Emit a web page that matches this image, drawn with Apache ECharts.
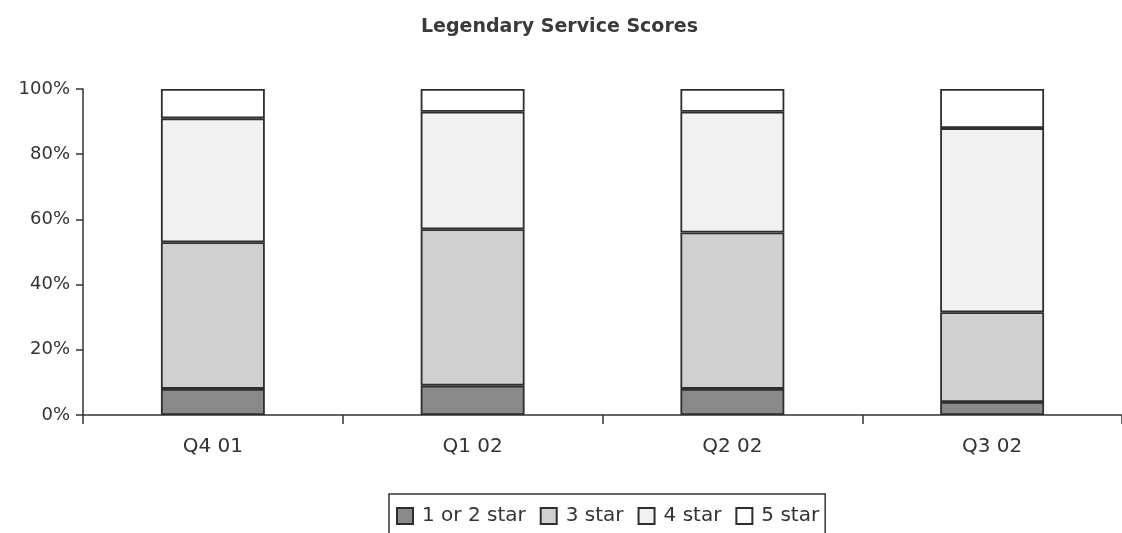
<!DOCTYPE html>
<html>
<head>
<meta charset="utf-8">
<script src="https://cdn.jsdelivr.net/npm/echarts@6/dist/echarts.min.js"></script>
<style>
html,body{margin:0;padding:0;background:#fff;}
#chart{width:1122px;height:533px;}
</style>
</head>
<body>
<div id="chart"></div>
<script>
var categories = ['Q4 01', 'Q1 02', 'Q2 02', 'Q3 02'];
var seriesNames = ['1 or 2 star', '3 star', '4 star', '5 star'];
var star12 = [8, 9, 8, 4];
var star3 = [45, 48, 48, 27.5];
var star4 = [38, 36, 37, 56.5];
var star5 = [9, 7, 7, 12];
var yTicks = [0, 20, 40, 60, 80, 100];

var fills = ['#8a8a8a', '#d0d0d0', '#f1f1f1', '#ffffff'];
var values = [star12, star3, star4, star5];
var FONT = 'DejaVu Sans';

var chart = echarts.init(document.getElementById('chart'), null, {renderer: 'canvas'});
chart.setOption({
  animation: false,
  backgroundColor: '#ffffff',
  title: {
    text: 'Legendary Service Scores',
    left: 416,
    top: 13,
    textStyle: {fontFamily: FONT, fontSize: 19, fontWeight: 'bold', color: '#3a3a3a'}
  },
  legend: {
    data: seriesNames,
    left: 389,
    top: 494,
    orient: 'horizontal',
    icon: 'rect',
    itemWidth: 16,
    itemHeight: 16,
    itemGap: 14,
    padding: [12, 6, 30, 7],
    borderColor: '#333',
    borderWidth: 1.5,
    textStyle: {fontFamily: FONT, fontSize: 20, color: '#333', padding: [0, 0, 0, 4]}
  },
  grid: {left: 83, right: 0, top: 89, bottom: 118, containLabel: false},
  xAxis: {
    type: 'category',
    data: categories,
    axisLine: {show: true, lineStyle: {color: '#333', width: 1.5}},
    axisTick: {show: true, length: 9, interval: 0, lineStyle: {color: '#333', width: 1.5}},
    axisLabel: {fontFamily: FONT, fontSize: 20, color: '#333', margin: 22},
    splitLine: {show: false}
  },
  yAxis: {
    type: 'value',
    min: yTicks[0],
    max: yTicks[yTicks.length - 1],
    interval: 20,
    axisLine: {show: true, lineStyle: {color: '#333', width: 1.5}},
    axisTick: {show: true, length: 7, lineStyle: {color: '#333', width: 1.5}},
    axisLabel: {fontFamily: FONT, fontSize: 18, color: '#333', margin: 13, formatter: '{value}%'},
    splitLine: {show: false}
  },
  series: seriesNames.map(function (name, i) {
    return {
      name: name,
      type: 'bar',
      stack: 'total',
      barWidth: '40%',
      data: values[i],
      itemStyle: {color: fills[i], borderColor: '#2e2e2e', borderWidth: 1.8}
    };
  })
});
</script>
</body>
</html>
